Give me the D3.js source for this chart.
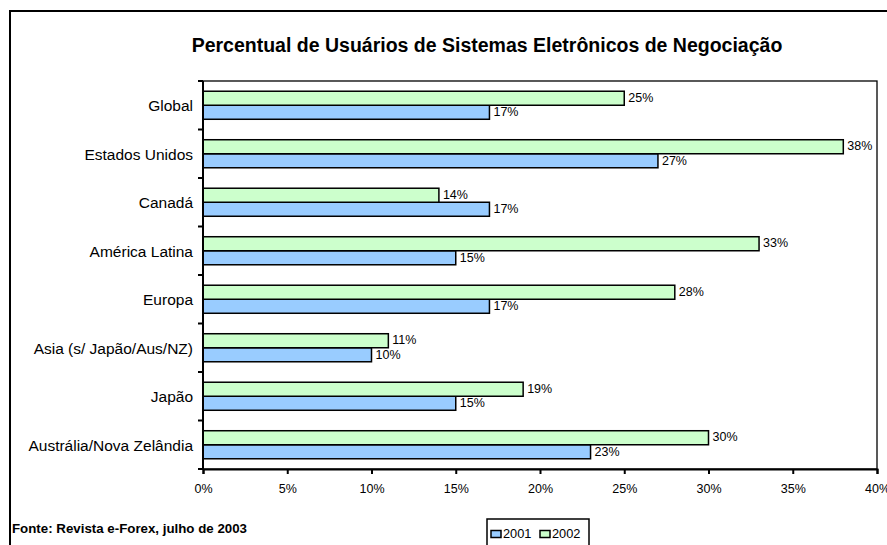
<!doctype html>
<html>
<head>
<meta charset="utf-8">
<script src="https://d3js.org/d3.v7.min.js"></script>
<style>
  body { margin:0; background:#fff; }
  svg { display:block; font-family:"Liberation Sans", Arial, sans-serif; }
</style>
</head>
<body>
<svg id="chart" width="887" height="545"></svg>
<script>
// data
var categories = ["Global", "Estados Unidos", "Canadá", "América Latina", "Europa",
                  "Asia (s/ Japão/Aus/NZ)", "Japão", "Austrália/Nova Zelândia"];
var values2001 = [17, 27, 17, 15, 17, 10, 15, 23];
var values2002 = [25, 38, 14, 33, 28, 11, 19, 30];
var xTicks = [0, 5, 10, 15, 20, 25, 30, 35, 40];
var seriesNames = ["2001", "2002"];
var seriesColors = {"2001": "#99CCFF", "2002": "#CCFFCC"};

var svg = d3.select("#chart");

// outer chart frame (runs off the right and bottom edges)
svg.append("rect")
  .attr("x", 10).attr("y", 11)
  .attr("width", 900).attr("height", 560)
  .attr("fill", "#fff").attr("stroke", "#000").attr("stroke-width", 2);

var plot = {left: 203, top: 81, right: 877, bottom: 469};

var x = d3.scaleLinear().domain([0, 40]).range([plot.left, plot.right]);
var y = d3.scaleBand().domain(categories).range([plot.top, plot.bottom]);
var inner = d3.scaleBand().domain(["2002", "2001"])
  .range([0, y.bandwidth()]).paddingOuter(0.73).paddingInner(0);

// plot area box
svg.append("rect")
  .attr("x", plot.left).attr("y", plot.top)
  .attr("width", plot.right - plot.left).attr("height", plot.bottom - plot.top)
  .attr("fill", "none").attr("stroke", "#000").attr("stroke-width", 1.3);

// title
svg.append("text")
  .attr("x", 487).attr("y", 52)
  .attr("text-anchor", "middle")
  .attr("font-size", "19.5px").attr("font-weight", "bold")
  .text("Percentual de Usuários de Sistemas Eletrônicos de Negociação");

var rows = categories.map(function(c, i) {
  return {cat: c, "2001": values2001[i], "2002": values2002[i]};
});

var groups = svg.selectAll("g.row").data(rows).enter().append("g")
  .attr("class", "row")
  .attr("transform", function(d) { return "translate(0," + y(d.cat) + ")"; });

seriesNames.forEach(function(s) {
  groups.append("rect")
    .attr("x", x(0))
    .attr("y", inner(s))
    .attr("width", function(d) { return x(d[s]) - x(0); })
    .attr("height", inner.bandwidth())
    .attr("fill", seriesColors[s])
    .attr("stroke", "#000").attr("stroke-width", 1.5);

  groups.append("text")
    .attr("x", function(d) { return x(d[s]) + 4; })
    .attr("y", inner(s) + inner.bandwidth() / 2)
    .attr("dy", "0.3em")
    .attr("font-size", "12.5px")
    .text(function(d) { return d[s] + "%"; });
});

// y axis: category labels with ticks on the band edges
var yAxis = svg.append("g").attr("transform", "translate(" + plot.left + ",0)");
yAxis.append("line")
  .attr("x1", 0).attr("x2", 0).attr("y1", plot.top).attr("y2", plot.bottom)
  .attr("stroke", "#000").attr("stroke-width", 2);
var edges = categories.map(function(c) { return y(c); }).concat([plot.bottom]);
yAxis.selectAll("line.tk").data(edges).enter().append("line")
  .attr("class", "tk")
  .attr("x1", -5).attr("x2", 0)
  .attr("y1", function(d) { return d; }).attr("y2", function(d) { return d; })
  .attr("stroke", "#000").attr("stroke-width", 2);
yAxis.selectAll("text").data(categories).enter().append("text")
  .attr("x", -10)
  .attr("y", function(d) { return y(d) + y.bandwidth() / 2; })
  .attr("dy", "0.4em")
  .attr("text-anchor", "end")
  .attr("font-size", "15.5px")
  .text(function(d) { return d; });

// x axis
var xAxis = svg.append("g")
  .attr("transform", "translate(0," + plot.bottom + ")")
  .call(d3.axisBottom(x).tickValues(xTicks).tickSize(5).tickPadding(10)
    .tickFormat(function(d) { return d + "%"; }));
xAxis.select(".domain").attr("stroke-width", 2);
xAxis.selectAll(".tick line").attr("stroke-width", 2);
xAxis.selectAll(".tick text")
  .attr("font-size", "12.5px")
  .attr("font-family", "Liberation Sans, Arial, sans-serif");

// source note
svg.append("text")
  .attr("x", 12).attr("y", 533)
  .attr("font-size", "13.3px").attr("font-weight", "bold")
  .text("Fonte: Revista e-Forex, julho de 2003");

// legend
var legend = svg.append("g").attr("transform", "translate(487,519)");
legend.append("rect")
  .attr("x", 0).attr("y", 0).attr("width", 102).attr("height", 40)
  .attr("fill", "#fff").attr("stroke", "#000").attr("stroke-width", 1.5);
seriesNames.forEach(function(s, i) {
  var lx = 4 + i * 49;
  legend.append("rect")
    .attr("x", lx).attr("y", 11.5).attr("width", 10).attr("height", 7)
    .attr("fill", seriesColors[s]).attr("stroke", "#000").attr("stroke-width", 1.5);
  legend.append("text")
    .attr("x", lx + 12).attr("y", 18.5)
    .attr("font-size", "12.8px")
    .text(s);
});
</script>
</body>
</html>
